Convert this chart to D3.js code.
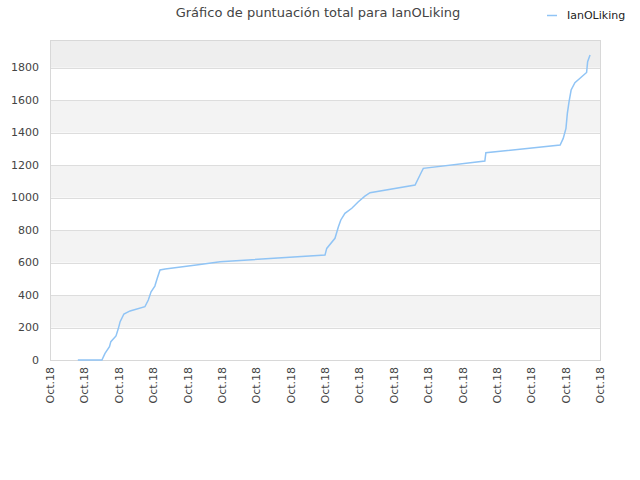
<!DOCTYPE html>
<html>
<head>
<meta charset="utf-8">
<script src="https://cdn.jsdelivr.net/npm/d3@7"></script>
<style>
  body { margin: 0; background: #fff; }
  text { font-family: "DejaVu Sans", sans-serif; }
</style>
</head>
<body>
<svg id="chart" width="640" height="480"></svg>
<script>
// Data (x in tick units, one unit per "Oct.18" label)
var seriesName = 'IanOLiking';
var titleText = 'Gráfico de puntuación total para IanOLiking';
var tickLabels = ['Oct.18', 'Oct.18', 'Oct.18', 'Oct.18', 'Oct.18', 'Oct.18',
  'Oct.18', 'Oct.18', 'Oct.18', 'Oct.18', 'Oct.18', 'Oct.18', 'Oct.18',
  'Oct.18', 'Oct.18', 'Oct.18', 'Oct.18'];
var yTicks = [0, 200, 400, 600, 800, 1000, 1200, 1400, 1600, 1800];
var xs = [0.81, 1.51, 1.60, 1.73, 1.77, 1.92, 1.99, 2.04, 2.15, 2.33, 2.76,
  2.86, 2.94, 3.05, 3.12, 3.20, 3.35, 4.31, 4.95, 8.00, 8.05, 8.29, 8.39,
  8.46, 8.58, 8.78, 8.97, 9.16, 9.31, 10.62, 10.81, 10.86, 12.65, 12.68,
  14.84, 14.93, 15.01, 15.05, 15.10, 15.16, 15.27, 15.61, 15.64, 15.71];
var scores = [0, 0, 41, 82, 113, 148, 195, 236, 283, 302, 328,
  369, 420, 455, 503, 554, 560, 587, 605, 646, 687, 749, 820,
  862, 903, 934, 974, 1009, 1030, 1077, 1159, 1180, 1225, 1276,
  1323, 1364, 1426, 1518, 1590, 1662, 1707, 1770, 1836, 1877];

var margin = { top: 40, right: 40, bottom: 120, left: 50 };
var yMax = 1970;

var svg, plot, width, height, xScale, yScale;

(function draw() {
  svg = d3.select('#chart');
  width = +svg.attr('width') - margin.left - margin.right;
  height = +svg.attr('height') - margin.top - margin.bottom;

  xScale = d3.scaleLinear()
    .domain([0, tickLabels.length - 1])
    .range([0, width]);

  yScale = d3.scaleLinear()
    .domain([0, yMax])
    .range([height, 0]);

  plot = svg.append('g')
    .attr('transform', 'translate(' + margin.left + ',' + margin.top + ')');

  // Background bands
  var bands = yTicks.map(function (t, i) {
    return { lo: t, hi: i < yTicks.length - 1 ? yTicks[i + 1] : yMax, i: i };
  });
  plot.selectAll('rect.band')
      .data(bands)
      .enter()
    .append('rect')
      .attr('class', 'band')
      .attr('x', 0)
      .attr('width', width)
      .attr('y', function (d) { return yScale(d.hi); })
      .attr('height', function (d) { return yScale(d.lo) - yScale(d.hi); })
      .attr('fill', function (d) {
        if (d.i === bands.length - 1) return '#eeeeee';
        return d.i % 2 === 1 ? '#f3f3f3' : '#ffffff';
      });

  // Grid lines
  plot.selectAll('line.grid')
      .data(yTicks.slice(1))
      .enter()
    .append('line')
      .attr('x1', 0)
      .attr('x2', width)
      .attr('y1', function (d) { return Math.round(yScale(d)) + 0.5; })
      .attr('y2', function (d) { return Math.round(yScale(d)) + 0.5; })
      .attr('stroke', '#dddddd');

  // Frame
  plot.append('rect')
    .attr('x', 0.5)
    .attr('y', 0.5)
    .attr('width', width)
    .attr('height', height)
    .attr('fill', 'none')
    .attr('stroke', '#d8d8d8');

  // Y labels
  plot.selectAll('text.ylab')
      .data(yTicks)
      .enter()
    .append('text')
      .attr('x', -11)
      .attr('y', function (d) { return yScale(d); })
      .attr('dy', '0.35em')
      .attr('text-anchor', 'end')
      .attr('font-size', 11)
      .attr('fill', '#444')
      .text(function (d) { return d; });

  // X labels (rotated)
  plot.selectAll('text.xlab')
      .data(tickLabels)
      .enter()
    .append('text')
      .attr('transform', function (d, i) {
        return 'translate(' + (xScale(i) + 4) + ',' + (height + 7) + ') rotate(-90)';
      })
      .attr('text-anchor', 'end')
      .attr('font-size', 11)
      .attr('fill', '#444')
      .text(function (d) { return d; });

  // Series line
  var line = d3.line()
    .x(function (d, i) { return xScale(xs[i]); })
    .y(function (d) { return yScale(d); });

  plot.append('path')
    .datum(scores)
    .attr('d', line)
    .attr('fill', 'none')
    .attr('stroke', '#90c4f5')
    .attr('stroke-width', 1.5);

  // Title
  svg.append('text')
    .attr('x', 318)
    .attr('y', 17)
    .attr('text-anchor', 'middle')
    .attr('font-size', 13)
    .attr('fill', '#444')
    .text(titleText);

  // Legend
  svg.append('line')
    .attr('x1', 547)
    .attr('x2', 557)
    .attr('y1', 15.5)
    .attr('y2', 15.5)
    .attr('stroke', '#90c4f5')
    .attr('stroke-width', 1.5);
  svg.append('text')
    .attr('x', 567)
    .attr('y', 19)
    .attr('font-size', 11)
    .attr('fill', '#222')
    .text(seriesName);
})();
</script>
</body>
</html>
